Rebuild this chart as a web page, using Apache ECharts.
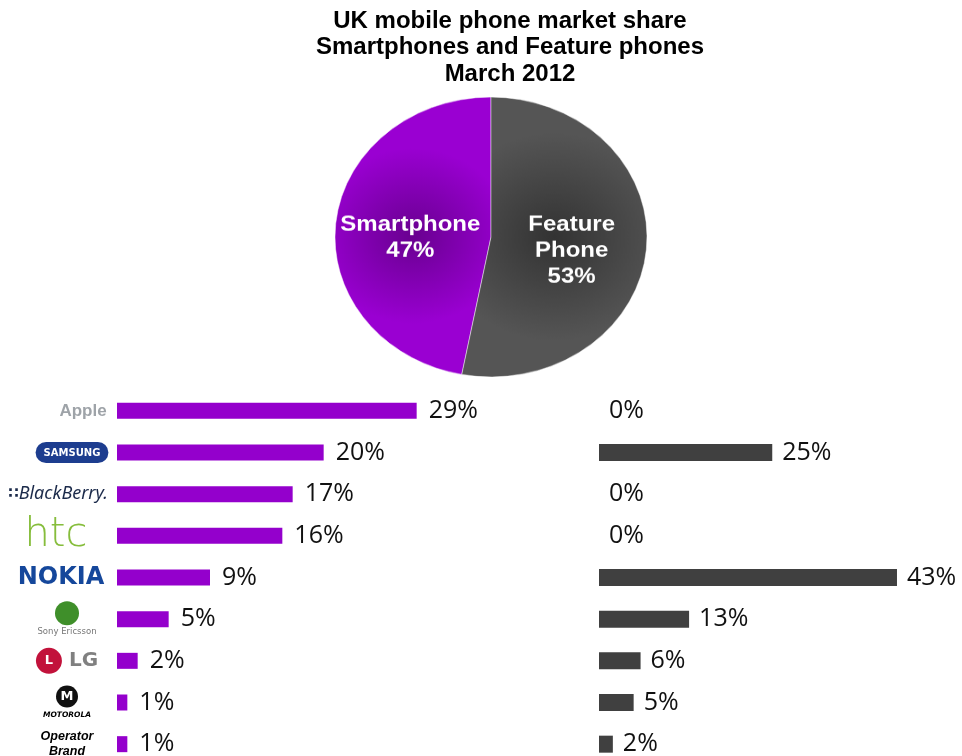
<!DOCTYPE html>
<html>
<head>
<meta charset="utf-8">
<script src="https://cdn.jsdelivr.net/npm/echarts@6/dist/echarts.min.js"></script>
<style>
html,body{margin:0;padding:0;background:#fff;}
#wrap{position:relative;width:962px;height:756px;overflow:hidden;}
#chart{position:absolute;left:0;top:0;width:962px;height:756px;}
#pie{position:absolute;left:0;top:0;width:962px;height:756px;transform-origin:491px 237px;transform:scaleY(0.897);}
</style>
</head>
<body>
<div id="wrap">
<div id="chart"></div>
<div id="pie"></div>
</div>
<script>
// ---- data ----
var titleLines = ['UK mobile phone market share', 'Smartphones and Feature phones', 'March 2012'];
var pieNames = ['Smartphone', 'Feature Phone'];
var pieValues = [47, 53];
var brands = ['Apple', 'Samsung', 'BlackBerry', 'HTC', 'Nokia', 'Sony Ericsson', 'LG', 'Motorola', 'Operator Brand'];
var smartphoneShare = [29, 20, 17, 16, 9, 5, 2, 1, 1];
var featurePhoneShare = [0, 25, 0, 0, 43, 13, 6, 5, 2];

var PURPLE = '#9400cc';
var GREY = '#404040';

var brandLabel = {
  'Apple': '{apple|Apple}',
  'Samsung': '{sp10| }{samsung|SAMSUNG}',
  'BlackBerry': '{bbdots|∷}{bb|BlackBerry.}{sp18| }',
  'HTC': '{htc|htc}{sp22| }',
  'Nokia': '{nokia|NOKIA}{sp12| }',
  'Sony Ericsson': '{seBall| }\n{se|Sony Ericsson}',
  'LG': '{lgBall|L}{lg| LG}',
  'Motorola': '{motoBall|M}\n{moto|MOTOROLA}',
  'Operator Brand': '{op|Operator}\n{op|Brand}'
};

var chart = echarts.init(document.getElementById('chart'), null, {renderer: 'canvas'});
var pieChart = echarts.init(document.getElementById('pie'), null, {renderer: 'canvas'});

var option = {
  backgroundColor: '#ffffff',
  animation: false,
  title: {
    text: titleLines.join('\n'),
    left: 505,
    top: 3,
    textAlign: 'center',
    textStyle: {
      fontFamily: 'Liberation Sans, Arial, sans-serif',
      fontWeight: 'bold',
      fontSize: 24,
      lineHeight: 26.5,
      color: '#000'
    }
  },
  grid: [
    {left: 117, top: 390, width: 310, height: 375, containLabel: false, outerBoundsMode: 'none'},
    {left: 599, top: 390, width: 346.5, height: 375, containLabel: false, outerBoundsMode: 'none'}
  ],
  xAxis: [
    {gridIndex: 0, type: 'value', min: 0, max: 30, show: false},
    {gridIndex: 1, type: 'value', min: 0, max: 50, show: false}
  ],
  yAxis: [
    {
      gridIndex: 0, type: 'category', data: brands, inverse: true,
      axisLine: {show: false}, axisTick: {show: false}, splitLine: {show: false},
      axisLabel: {
        align: 'center',
        margin: 50,
        formatter: function (v) { return brandLabel[v] || v; },
        rich: {
          sp10: {width: 10, fontSize: 10},
          sp18: {width: 18, fontSize: 10},
          sp22: {width: 22, fontSize: 10},
          sp12: {width: 12, fontSize: 10},
          apple: {fontFamily: 'Liberation Sans, Arial', fontSize: 17, fontWeight: 'bold', color: '#9ea3a8', padding: [0, 0, 0, 32]},
          samsung: {fontFamily: 'DejaVu Sans', fontSize: 10, fontWeight: 'bold', color: '#ffffff',
            backgroundColor: '#1d3d8f', borderRadius: 12, padding: [6, 8, 5, 8]},
          bbdots: {fontFamily: 'DejaVu Sans', fontSize: 15, fontWeight: 'bold', color: '#1b2a4a'},
          bb: {fontFamily: 'Noto Sans', fontSize: 18, fontStyle: 'italic', color: '#1b2a4a'},
          htc: {fontFamily: 'DejaVu Sans', fontSize: 40, fontWeight: 'lighter', color: '#86bd3c'},
          nokia: {fontFamily: 'DejaVu Sans', fontSize: 24, fontWeight: 'bold', color: '#15479b'},
          seBall: {backgroundColor: '#3f8f2a', borderRadius: 12, width: 24, height: 24, fontSize: 10, lineHeight: 26},
          se: {fontFamily: 'DejaVu Sans', fontSize: 8.5, color: '#777777', lineHeight: 12},
          lgBall: {backgroundColor: '#c2123b', borderRadius: 13, width: 26, height: 26, align: 'center',
            color: '#ffffff', fontFamily: 'DejaVu Sans', fontWeight: 'bold', fontSize: 13},
          lg: {fontFamily: 'DejaVu Sans', fontSize: 20, fontWeight: 'bold', color: '#808080'},
          motoBall: {backgroundColor: '#111111', borderRadius: 11, width: 22, height: 22, align: 'center',
            color: '#ffffff', fontFamily: 'DejaVu Sans', fontWeight: 'bold', fontSize: 13, lineHeight: 25},
          moto: {fontFamily: 'DejaVu Sans', fontSize: 7.5, fontWeight: 'bold', fontStyle: 'italic', color: '#000', lineHeight: 12},
          op: {fontFamily: 'Liberation Sans, Arial', fontSize: 12.5, fontWeight: 'bold', fontStyle: 'italic', color: '#000', lineHeight: 15}
        }
      }
    },
    {
      gridIndex: 1, type: 'category', data: brands, inverse: true,
      axisLine: {show: false}, axisTick: {show: false}, splitLine: {show: false}, axisLabel: {show: false}
    }
  ],
  series: [
    {
      type: 'bar',
      xAxisIndex: 0, yAxisIndex: 0,
      data: smartphoneShare,
      barWidth: 16,
      itemStyle: {color: PURPLE},
      label: {
        show: true, position: 'right', distance: 12,
        formatter: '{c}%',
        fontFamily: 'Open Sans, DejaVu Sans, sans-serif',
        fontSize: 25, color: '#111111'
      }
    },
    {
      type: 'bar',
      xAxisIndex: 1, yAxisIndex: 1,
      data: featurePhoneShare,
      barWidth: 17,
      itemStyle: {color: GREY},
      label: {
        show: true, position: 'right', distance: 10,
        formatter: '{c}%',
        fontFamily: 'Open Sans, DejaVu Sans, sans-serif',
        fontSize: 25, color: '#111111'
      }
    }
  ]
};
chart.setOption(option);

var pieLabelStyle = {
  color: '#ffffff',
  fontFamily: 'Liberation Sans, Arial, sans-serif',
  fontWeight: 'bold',
  fontSize: 24,
  lineHeight: 29
};

var pieOption = {
  animation: false,
  series: [
    {
      type: 'pie',
      center: [491, 237],
      radius: 156,
      startAngle: 90,
      clockwise: false,
      silent: true,
      label: {
        show: true,
        position: 'inside',
        formatter: function (p) {
          var name = p.name === 'Feature Phone' ? 'Feature\nPhone' : p.name;
          var lines = (name + '\n' + p.value + '%').split('\n');
          return '{g| }\n' + lines.map(function (l) { return '{t|' + l + '}'; }).join('\n');
        },
        rich: {
          g: {fontSize: 2, lineHeight: 16},
          t: pieLabelStyle
        }
      },
      labelLine: {show: false},
      data: [
        {name: pieNames[0], value: pieValues[0], itemStyle: {
          color: {type: 'radial', x: 0.5, y: 0.5, r: 0.62,
            colorStops: [{offset: 0, color: '#690090'}, {offset: 1, color: '#9a00d2'}]},
          borderColor: 'rgba(255,255,255,0.45)', borderWidth: 1}},
        {name: pieNames[1], value: pieValues[1], itemStyle: {
          color: {type: 'radial', x: 0.5, y: 0.5, r: 0.62,
            colorStops: [{offset: 0, color: '#333333'}, {offset: 1, color: '#555555'}]},
          borderColor: 'rgba(255,255,255,0.45)', borderWidth: 1}}
      ]
    }
  ]
};
pieChart.setOption(pieOption);
</script>
</body>
</html>
